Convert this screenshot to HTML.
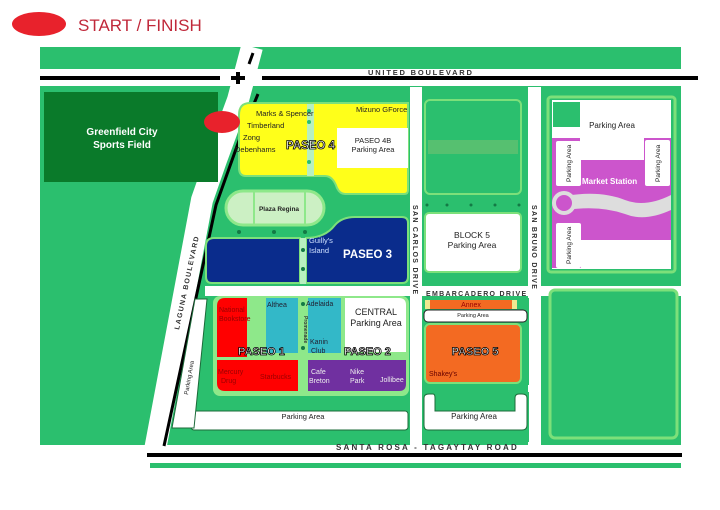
<!DOCTYPE html>
<html><head><meta charset="utf-8"><style>
body{margin:0;background:#fff;width:720px;height:510px;overflow:hidden}
svg{display:block}
text{font-family:"Liberation Sans",sans-serif}
</style></head><body>
<svg width="720" height="510" viewBox="0 0 720 510">
<!-- legend -->
<ellipse cx="39" cy="24" rx="27" ry="12" fill="#e8222c"/>
<text x="78" y="31" font-size="17" fill="#c0283a">START / FINISH</text>
<!-- map base -->
<rect x="40" y="47" width="641" height="421" fill="#2bbf6e"/>
<rect x="40" y="445" width="110" height="30" fill="#fff"/>
<!-- United blvd -->
<rect x="40" y="69" width="660" height="17" fill="#fff"/>
<rect x="690" y="47" width="30" height="40" fill="#fff"/>
<rect x="40" y="76" width="180" height="4" fill="#000"/>
<rect x="262" y="76" width="436" height="4" fill="#000"/>
<text x="368" y="75" font-size="7.5" font-weight="bold" letter-spacing="1.8" fill="#333">UNITED BOULEVARD</text>
<!-- bottom road -->
<rect x="140" y="445" width="545" height="18" fill="#fff"/>
<rect x="147" y="453" width="535" height="4" fill="#000"/>
<text x="336" y="450" font-size="8" font-weight="bold" letter-spacing="2.2" fill="#333">SANTA ROSA - TAGAYTAY ROAD</text>
<!-- Laguna boulevard -->
<polyline points="252,47 238,100 216,160 202,200 155,450" fill="none" stroke="#fff" stroke-width="22"/>
<polyline points="258,94 241,135 216,205 164,446" fill="none" stroke="#000" stroke-width="3"/>
<polyline points="253,53 249,64" stroke="#000" stroke-width="3"/>
<rect x="231" y="76" width="14" height="4" fill="#000"/><rect x="236" y="72" width="4" height="12" fill="#000"/>
<text transform="translate(179,330) rotate(-78)" font-size="7" font-weight="bold" letter-spacing="1.3" fill="#333">LAGUNA BOULEVARD</text>
<!-- sports field -->
<rect x="44" y="92" width="174" height="90" fill="#0a7a2a"/>
<text x="122" y="135" font-size="10" font-weight="bold" fill="#fff" text-anchor="middle">Greenfield City</text>
<text x="122" y="148" font-size="10" font-weight="bold" fill="#fff" text-anchor="middle">Sports Field</text>
<!-- San Carlos / San Bruno roads -->
<rect x="410" y="87" width="12" height="358" fill="#fff"/>
<rect x="528" y="87" width="13" height="358" fill="#fff"/>
<rect x="205" y="286" width="476" height="10" fill="#fff"/>
<text transform="translate(413,205) rotate(90)" font-size="7" font-weight="bold" letter-spacing="1.3" fill="#333">SAN CARLOS DRIVE</text>
<text transform="translate(532,205) rotate(90)" font-size="7" font-weight="bold" letter-spacing="1.3" fill="#333">SAN BRUNO DRIVE</text>
<text x="426" y="296" font-size="7" font-weight="bold" letter-spacing="1.3" fill="#333">EMBARCADERO DRIVE</text>
<!-- Paseo 4 -->
<path d="M250,103 H408 V190 Q408,194 404,194 H345 Q340,194 337,188 Q333,176 325,176 H246 Q239,176 239,168 V115 Q239,103 250,103Z" fill="#ffff1a" stroke="#7ce07a" stroke-width="2"/>
<rect x="307" y="104" width="7" height="72" fill="#b8f0c0"/>
<circle cx="309" cy="111" r="2" fill="#2bbf6e"/><circle cx="309" cy="122" r="2" fill="#2bbf6e"/><circle cx="309" cy="162" r="2" fill="#2bbf6e"/>
<rect x="337" y="128" width="71" height="40" fill="#fff"/>
<text x="256" y="116" font-size="7.5" fill="#222">Marks &amp; Spencer</text>
<text x="247" y="128" font-size="7.5" fill="#222">Timberland</text>
<text x="243" y="140" font-size="7.5" fill="#222">Zong</text>
<text x="235" y="152" font-size="7.5" fill="#222">Debenhams</text>
<text x="286" y="149" font-size="11.5" font-weight="bold" fill="#fff" stroke="#000" stroke-width="0.8">PASEO 4</text>
<text x="356" y="112" font-size="7.5" fill="#222">Mizuno GForce</text>
<text x="373" y="143" font-size="7.5" fill="#222" text-anchor="middle">PASEO 4B</text>
<text x="373" y="152" font-size="7.5" fill="#222" text-anchor="middle">Parking Area</text>
<ellipse cx="222" cy="122" rx="18" ry="11" fill="#e8222c"/>
<!-- Plaza Regina -->
<rect x="226" y="191" width="98" height="34" rx="17" fill="#ccf0c4" stroke="#8ee88a" stroke-width="3"/>
<line x1="254" y1="192" x2="254" y2="224" stroke="#8ee88a" stroke-width="2"/>
<line x1="305" y1="192" x2="305" y2="224" stroke="#8ee88a" stroke-width="2"/>
<text x="279" y="211" font-size="6.5" font-weight="bold" fill="#222" text-anchor="middle">Plaza Regina</text>
<circle cx="239" cy="232" r="2" fill="#137a45"/><circle cx="274" cy="232" r="2" fill="#137a45"/><circle cx="305" cy="232" r="2" fill="#137a45"/>
<!-- Paseo 3 -->
<path d="M206,246 Q206,238 214,238 H300 V283 H212 Q206,283 206,277Z" fill="#0a2c8c" stroke="#7ce07a" stroke-width="2"/>
<path d="M306,238 Q325,238 335,225 Q342,217 355,217 H402 Q408,217 408,223 V277 Q408,283 402,283 H306Z" fill="#0a2c8c" stroke="#7ce07a" stroke-width="2"/>
<rect x="300" y="238" width="6" height="46" fill="#b8f0c0"/>
<circle cx="303" cy="250" r="2" fill="#137a45"/><circle cx="303" cy="269" r="2" fill="#137a45"/>
<text x="309" y="243" font-size="7.5" fill="#cfe0ff">Guilly's</text>
<text x="309" y="253" font-size="7.5" fill="#cfe0ff">Island</text>
<text x="343" y="258" font-size="11.5" font-weight="bold" fill="#fff">PASEO 3</text>
<!-- Paseo 1/2 -->
<rect x="213" y="296" width="196" height="100" rx="7" fill="#8ee88a"/>
<path d="M225,298 H247 V357 H217 V306 Q217,298 225,298Z" fill="#f00"/>
<rect x="266" y="298" width="32" height="55" fill="#33b8c8"/>
<rect x="308" y="298" width="33" height="55" fill="#33b8c8"/>
<path d="M345,298 H399 Q406,298 406,305 V352 H345Z" fill="#fff"/>
<path d="M217,360 H298 V391 H225 Q217,391 217,383Z" fill="#f00"/>
<path d="M308,360 H406 V384 Q406,391 399,391 H308Z" fill="#7030a0"/>
<circle cx="303" cy="304" r="2" fill="#137a45"/><circle cx="303" cy="348" r="2" fill="#137a45"/>
<text transform="translate(304,316) rotate(90)" font-size="5" font-weight="bold" fill="#333">Promenade</text>
<text x="219" y="312" font-size="7" fill="#900">National</text>
<text x="219" y="321" font-size="7" fill="#900">Bookstore</text>
<text x="267" y="307" font-size="7" fill="#223">Althea</text>
<text x="306" y="306" font-size="7" fill="#223">Adelaida</text>
<text x="310" y="344" font-size="7" fill="#223">Kanin</text>
<text x="311" y="353" font-size="7" fill="#223">Club</text>
<text x="376" y="315" font-size="9" fill="#222" text-anchor="middle">CENTRAL</text>
<text x="376" y="326" font-size="9" fill="#222" text-anchor="middle">Parking Area</text>
<text x="238" y="355" font-size="11" font-weight="bold" fill="#fff" stroke="#000" stroke-width="0.8">PASEO 1</text>
<text x="344" y="355" font-size="11" font-weight="bold" fill="#fff" stroke="#000" stroke-width="0.8">PASEO 2</text>
<text x="218" y="374" font-size="7" fill="#900">Mercury</text>
<text x="221" y="383" font-size="7" fill="#900">Drug</text>
<text x="260" y="379" font-size="7" fill="#900">Starbucks</text>
<text x="311" y="374" font-size="7" fill="#eee">Cafe</text>
<text x="309" y="383" font-size="7" fill="#eee">Breton</text>
<text x="350" y="374" font-size="7" fill="#eee">Nike</text>
<text x="350" y="383" font-size="7" fill="#eee">Park</text>
<text x="380" y="382" font-size="7" fill="#eee">Jollibee</text>
<!-- parking strips -->
<rect x="191" y="411" width="217" height="19" rx="3" fill="#fff" stroke="#1d6b3a"/>
<text x="303" y="419" font-size="7.5" fill="#222" text-anchor="middle">Parking Area</text>
<polygon points="195,299 207,299 194,428 172,428" fill="#fff" stroke="#1d6b3a"/>
<text transform="translate(188,395) rotate(-80)" font-size="6" fill="#222">Parking Area</text>
<!-- Block column 2 -->
<rect x="425" y="100" width="96" height="94" rx="5" fill="#2bbf6e" stroke="#7ce07a" stroke-width="2"/>
<rect x="428" y="140" width="90" height="14" fill="#56c070"/>
<circle cx="427" cy="205" r="1.5" fill="#137a45"/><circle cx="447" cy="205" r="1.5" fill="#137a45"/><circle cx="471" cy="205" r="1.5" fill="#137a45"/><circle cx="495" cy="205" r="1.5" fill="#137a45"/><circle cx="519" cy="205" r="1.5" fill="#137a45"/>
<rect x="425" y="213" width="96" height="59" rx="4" fill="#fff" stroke="#7ce07a" stroke-width="2"/>
<text x="472" y="238" font-size="8.5" fill="#222" text-anchor="middle">BLOCK 5</text>
<text x="472" y="248" font-size="8.5" fill="#222" text-anchor="middle">Parking Area</text>
<rect x="424" y="298" width="105" height="87" fill="#2bbf6e"/>
<rect x="425" y="300" width="92" height="9" fill="#f0e890"/>
<rect x="430" y="300" width="82" height="9" fill="#f36a22"/>
<text x="471" y="307" font-size="7" fill="#900" text-anchor="middle">Annex</text>
<rect x="424" y="310" width="103" height="12" rx="4" fill="#fff" stroke="#222"/>
<text x="473" y="317" font-size="5.5" fill="#222" text-anchor="middle">Parking Area</text>
<rect x="425" y="324" width="96" height="59" rx="5" fill="#f36a22" stroke="#7ce07a" stroke-width="2"/>
<text x="475" y="355" font-size="11" font-weight="bold" fill="#fff" stroke="#000" stroke-width="0.8" text-anchor="middle">PASEO 5</text>
<text x="429" y="376" font-size="7" fill="#600">Shakey's</text>
<rect x="424" y="392" width="105" height="50" fill="#2bbf6e"/>
<path d="M429,394 H433 Q435,394 435,398 V411 H515 V398 Q515,394 519,394 H522 Q527,394 527,398 V425 Q527,430 522,430 H428 Q424,430 424,425 V398 Q424,394 429,394Z" fill="#fff" stroke="#1d6b3a"/>
<text x="474" y="419" font-size="8" fill="#222" text-anchor="middle">Parking Area</text>
<!-- right column -->
<rect x="548" y="97" width="127" height="175" rx="3" fill="#2bbf6e" stroke="#7ce07a" stroke-width="3"/>
<rect x="552" y="100" width="119" height="169" fill="#fff"/>
<rect x="553" y="102" width="27" height="25" fill="#2bbf6e"/>
<path d="M552,138 H580 V160 H644 V138 H671 V268 H552Z" fill="#cc55cc"/>
<rect x="556" y="141" width="25" height="45" rx="2" fill="#fff"/>
<rect x="645" y="140" width="25" height="46" rx="2" fill="#fff"/>
<rect x="556" y="223" width="25" height="45" rx="2" fill="#fff"/>
<rect x="581" y="240" width="90" height="28" fill="#fff"/>
<path d="M565,196 Q600,190 625,200 Q645,208 671,195 V210 Q645,222 625,214 Q600,205 565,210Z" fill="#ddd"/>
<circle cx="564" cy="203" r="12" fill="#ddd"/><circle cx="564" cy="203" r="8" fill="#cc55cc"/>
<text x="612" y="128" font-size="8" fill="#222" text-anchor="middle">Parking Area</text>
<text transform="translate(571,182) rotate(-90)" font-size="6.5" fill="#222">Parking Area</text>
<text transform="translate(660,182) rotate(-90)" font-size="6.5" fill="#222">Parking Area</text>
<text transform="translate(571,264) rotate(-90)" font-size="6.5" fill="#222">Parking Area</text>
<text x="582" y="184" font-size="8" font-weight="bold" fill="#fff">Market Station</text>
<rect x="550" y="290" width="127" height="148" rx="5" fill="#2bbf6e" stroke="#7ce07a" stroke-width="3"/>
</svg>
</body></html>
